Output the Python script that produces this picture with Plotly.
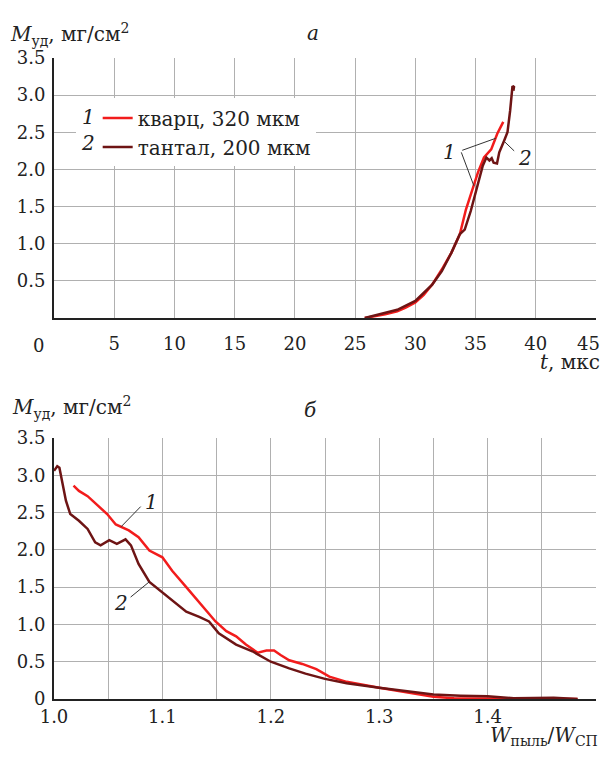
import plotly.graph_objects as go

# ---- data: panel a (M vs t) ----
t_quartz = [25.8, 26.5, 27.5, 28.5, 29.2, 30.0, 30.7, 31.4, 32.0, 32.3, 33.0, 33.7,
            34.2, 34.8, 35.2, 35.7, 36.3, 36.8, 37.3]
m_quartz_t = [0.0, 0.02, 0.05, 0.09, 0.14, 0.21, 0.31, 0.45, 0.60, 0.68, 0.88, 1.13,
              1.46, 1.76, 1.96, 2.16, 2.27, 2.48, 2.64]
t_tantal = [25.8, 26.5, 27.3, 28.5, 30.0, 31.4, 32.2, 33.0, 33.7, 34.1, 34.6, 35.2,
            35.6, 35.9, 36.15, 36.34, 36.5, 36.78, 36.97, 37.38, 37.65, 37.87, 38.06,
            38.2, 38.14]
m_tantal_t = [0.0, 0.03, 0.06, 0.11, 0.23, 0.45, 0.63, 0.88, 1.13, 1.19, 1.44, 1.80,
              2.05, 2.16, 2.12, 2.15, 2.09, 2.08, 2.23, 2.39, 2.50, 2.79, 3.11,
              3.12, 3.06]

# ---- data: panel б (M vs W_dust/W_SP) ----
w_quartz = [1.018, 1.023, 1.031, 1.038, 1.049, 1.057, 1.069, 1.078, 1.088, 1.100,
            1.109, 1.122, 1.137, 1.149, 1.159, 1.168, 1.177, 1.188, 1.196, 1.203,
            1.209, 1.217, 1.229, 1.242, 1.254, 1.270, 1.300, 1.326, 1.350, 1.369,
            1.400, 1.450, 1.483]
m_quartz_w = [2.86, 2.79, 2.72, 2.63, 2.48, 2.34, 2.26, 2.17, 1.99, 1.90,
              1.72, 1.50, 1.25, 1.04, 0.91, 0.84, 0.73, 0.62, 0.65, 0.65,
              0.59, 0.52, 0.47, 0.40, 0.30, 0.23, 0.15, 0.09, 0.03, 0.01,
              0.01, 0.01, 0.0]
w_tantal = [1.000, 1.003, 1.005, 1.008, 1.011, 1.015, 1.023, 1.031, 1.038, 1.043,
            1.051, 1.058, 1.066, 1.071, 1.078, 1.088, 1.100, 1.112, 1.122, 1.134,
            1.143, 1.152, 1.168, 1.183, 1.200, 1.217, 1.232, 1.250, 1.270, 1.300,
            1.326, 1.350, 1.375, 1.400, 1.424, 1.449, 1.461, 1.483]
m_tantal_w = [3.06, 3.12, 3.10, 2.90, 2.66, 2.48, 2.39, 2.28, 2.10, 2.06,
              2.13, 2.08, 2.14, 2.06, 1.81, 1.57, 1.43, 1.28, 1.17, 1.10,
              1.04, 0.88, 0.73, 0.64, 0.50, 0.41, 0.34, 0.27, 0.21, 0.15,
              0.10, 0.06, 0.045, 0.036, 0.01, 0.02, 0.018, 0.0]

names = ["кварц, 320 мкм", "тантал, 200 мкм"]
t_ticks = [5, 10, 15, 20, 25, 30, 35, 40, 45]
t_ticktext = ["5", "10", "15", "20", "25", "30", "35", "40", ""]  # "45" drawn as text below
m_ticks_a = [0.5, 1.0, 1.5, 2.0, 2.5, 3.0, 3.5]
m_ticks_b = [0, 0.5, 1.0, 1.5, 2.0, 2.5, 3.0, 3.5]
w_ticks = [1.0, 1.1, 1.2, 1.3, 1.4, 1.5]

RED = "#f21c1c"
DARK = "#6e1414"
FONT = "DejaVu Serif"
GRID = "#b0b0b0"

fig = go.Figure()
fig.add_trace(go.Scatter(x=t_quartz, y=m_quartz_t, mode="lines", name=names[0],
                         line=dict(color=RED, width=2.5), xaxis="x", yaxis="y"))
fig.add_trace(go.Scatter(x=t_tantal, y=m_tantal_t, mode="lines", name=names[1],
                         line=dict(color=DARK, width=2.5), xaxis="x", yaxis="y"))
fig.add_trace(go.Scatter(x=w_quartz, y=m_quartz_w, mode="lines", showlegend=False,
                         line=dict(color=RED, width=2.5), xaxis="x2", yaxis="y2"))
fig.add_trace(go.Scatter(x=w_tantal, y=m_tantal_w, mode="lines", showlegend=False,
                         line=dict(color=DARK, width=2.5), xaxis="x2", yaxis="y2"))

axis_common = dict(showgrid=True, gridcolor=GRID, gridwidth=1, zeroline=False,
                   showline=True, linecolor="#222", linewidth=2, ticks="",
                   automargin=False,
                   tickfont=dict(family=FONT, size=18, color="#222"))

# the page body adds an 8 px margin, so the figure is kept smaller than the window
fig.update_layout(
    width=602, height=743,
    margin=dict(l=46, r=14, t=50, b=52),
    paper_bgcolor="white", plot_bgcolor="white",
    font=dict(family=FONT, color="#222"),
    xaxis=dict(domain=[0, 1], range=[0, 45], tickvals=t_ticks, ticktext=t_ticktext,
               anchor="y", ticklabelstandoff=8, **axis_common),
    yaxis=dict(domain=[0.5944, 1.0], range=[0, 3.5], tickvals=m_ticks_a,
               tickformat=".1f", anchor="x", ticklabelstandoff=3, **axis_common),
    xaxis2=dict(domain=[0, 1], range=[1.0, 1.5], tickvals=w_ticks, tickformat=".1f",
                anchor="y2", ticklabelstandoff=0,
                minor=dict(dtick=0.05, showgrid=True, gridcolor=GRID, gridwidth=1),
                **axis_common),
    yaxis2=dict(domain=[0, 0.4072], range=[0, 3.5], tickvals=m_ticks_b,
                ticktext=["0", "0.5", "1.0", "1.5", "2.0", "2.5", "3.0", "3.5"],
                anchor="x2", ticklabelstandoff=3, **axis_common),
    legend=dict(x=0.04, y=0.937, xanchor="left", yanchor="top",
                bgcolor="white", borderwidth=0, indentation=22,
                font=dict(family=FONT, size=20, color="#222"),
                tracegroupgap=0, itemwidth=30),
    showlegend=True,
)

ann = []
def txt(x, y, s, size=18, xanchor="center", yanchor="middle", xref="paper", yref="paper"):
    ann.append(dict(x=x, y=y, xref=xref, yref=yref, text=s, showarrow=False,
                    xanchor=xanchor, yanchor=yanchor,
                    font=dict(family=FONT, size=size, color="#222")))

# axis titles and panel letters
txt(-0.085, 1.036, "<i>M</i><sub>уд</sub>, мг/см<sup>2</sup>", size=20, xanchor="left")
txt(0.478, 1.039, "<i>а</i>", size=20)
txt(-0.081, 0.454, "<i>M</i><sub>уд</sub>, мг/см<sup>2</sup>", size=20, xanchor="left")
txt(0.474, 0.451, "<i>б</i>", size=20)
txt(1.011, 0.526, "<i>t</i>, мкс", size=20, xanchor="right")
txt(1.0074, -0.058, "<i>W</i><sub>пыль</sub>/<i>W</i><sub>СП</sub>", size=20, xanchor="right")
txt(-0.0295, 0.552, "0")
txt(1.011, 0.554, "45", xanchor="right")
# legend numbers
txt(0.063, 0.908, "<i>1</i>", size=20)
txt(0.063, 0.867, "<i>2</i>", size=20)

# callouts panel a
txt(32.87, 2.23, "<i>1</i>", size=20, xref="x", yref="y")
txt(39.07, 2.16, "<i>2</i>", size=20, xref="x", yref="y")
# callouts panel б
txt(1.0896, 2.64, "<i>1</i>", size=20, xref="x2", yref="y2")
txt(1.0619, 1.29, "<i>2</i>", size=20, xref="x2", yref="y2")

def leader(x0, y0, x1, y1, xr, yr):
    ann.append(dict(x=x1, y=y1, ax=x0, ay=y0, xref=xr, yref=yr, axref=xr, ayref=yr,
                    text="", showarrow=True, arrowhead=0, arrowwidth=1,
                    arrowcolor="#333", standoff=0, startstandoff=0))

leader(33.77, 2.25, 36.69, 2.42, "x", "y")
leader(33.77, 2.25, 34.86, 1.78, "x", "y")
leader(38.33, 2.23, 37.43, 2.37, "x", "y")
leader(1.0813, 2.60, 1.0619, 2.31, "x2", "y2")
leader(1.0693, 1.35, 1.0878, 1.57, "x2", "y2")

fig.update_layout(annotations=ann)
fig.write_html("out.html")
